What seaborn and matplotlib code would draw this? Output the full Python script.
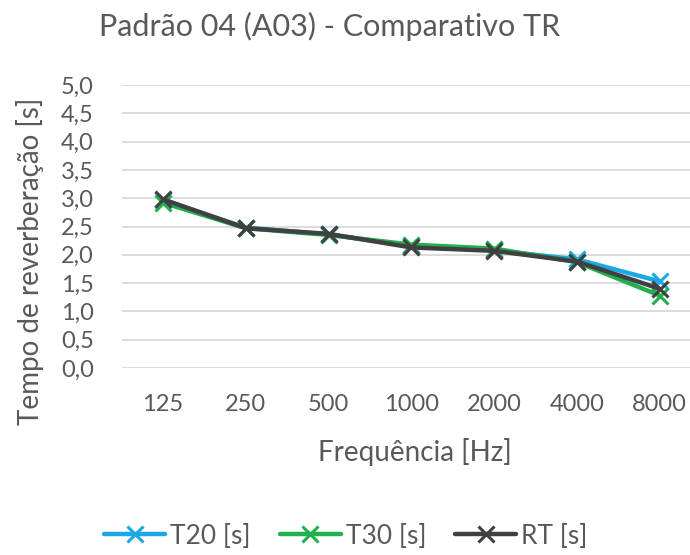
import matplotlib
matplotlib.use("Agg")
import matplotlib.pyplot as plt
import seaborn as sns
import pandas as pd
from matplotlib.lines import Line2D

freqs = ["125", "250", "500", "1000", "2000", "4000", "8000"]
t20 = [2.97, 2.48, 2.36, 2.15, 2.08, 1.92, 1.53]
t30 = [2.92, 2.47, 2.35, 2.18, 2.11, 1.87, 1.28]
rt = [2.98, 2.47, 2.37, 2.13, 2.07, 1.88, 1.40]
series_names = ["T20 [s]", "T30 [s]", "RT [s]"]
colors = ["#1BA9E6", "#20B04E", "#404040"]
yticks = [0.0, 0.5, 1.0, 1.5, 2.0, 2.5, 3.0, 3.5, 4.0, 4.5, 5.0]

df = pd.DataFrame({
    "freq": freqs * 3,
    "value": t20 + t30 + rt,
    "series": sum([[n] * len(freqs) for n in series_names], []),
})

sns.set_theme(style="white")
plt.rcParams["font.family"] = ["Lato", "DejaVu Sans"]
txt = "#595959"

W, H = 690, 555
ax_l, ax_r, ax_t, ax_b = 121.6, 690, 85, 368
fig = plt.figure(figsize=(6.9, 5.55), dpi=100)
ax = fig.add_axes([ax_l / W, (H - ax_b) / H, (ax_r - ax_l) / W, (ax_b - ax_t) / H])

sns.pointplot(data=df, x="freq", y="value", hue="series", order=freqs,
              hue_order=series_names, palette=colors, markers="x",
              linestyles="-", markersize=11, linewidth=3.2, ax=ax, legend=False)
for line in ax.lines:
    line.set_markeredgewidth(2.2)

ax.set_ylim(0, 5)
ax.set_xlim(-0.5, (690 - 163) / 82.8)
ax.set_yticks(yticks)
ax.set_yticklabels([f"{v:.1f}".replace(".", ",") for v in yticks])
ax.yaxis.grid(True, color="#D9D9D9", linewidth=1.3)
ax.set_axisbelow(True)
for s in ax.spines.values():
    s.set_visible(False)
ax.tick_params(axis="both", length=0, labelsize=17, colors=txt)
ax.tick_params(axis="y", pad=20)
ax.tick_params(axis="x", pad=19)
ax.set_xlabel("Frequência [Hz]", fontsize=20, color=txt)
ax.set_ylabel("Tempo de reverberação [s]", fontsize=20, color=txt)
ax.xaxis.label.set_verticalalignment("center")
ax.yaxis.label.set_verticalalignment("center")
aw, ah = ax_r - ax_l, ax_b - ax_t
ax.xaxis.set_label_coords((415 - ax_l) / aw, -(452 - ax_b) / ah)
ax.yaxis.set_label_coords((30 - ax_l) / aw, (ax_b - 261) / ah)
fig.text(330 / W, 1 - 26 / H, "Padrão 04 (A03) - Comparativo TR", ha="center",
         va="center", fontsize=22, color=txt)

handles = [Line2D([], [], color=c, lw=3.2, marker="x", markersize=11, markeredgewidth=2.2)
           for c in colors]
fig.legend(handles, series_names, loc="center", bbox_to_anchor=(346 / W, 1 - 536 / H),
           ncol=3, frameon=False, fontsize=19, labelcolor=txt, handlelength=2.3,
           handletextpad=0.2, columnspacing=1.1, borderpad=0, borderaxespad=0)

fig.savefig("out.png", dpi=100)
